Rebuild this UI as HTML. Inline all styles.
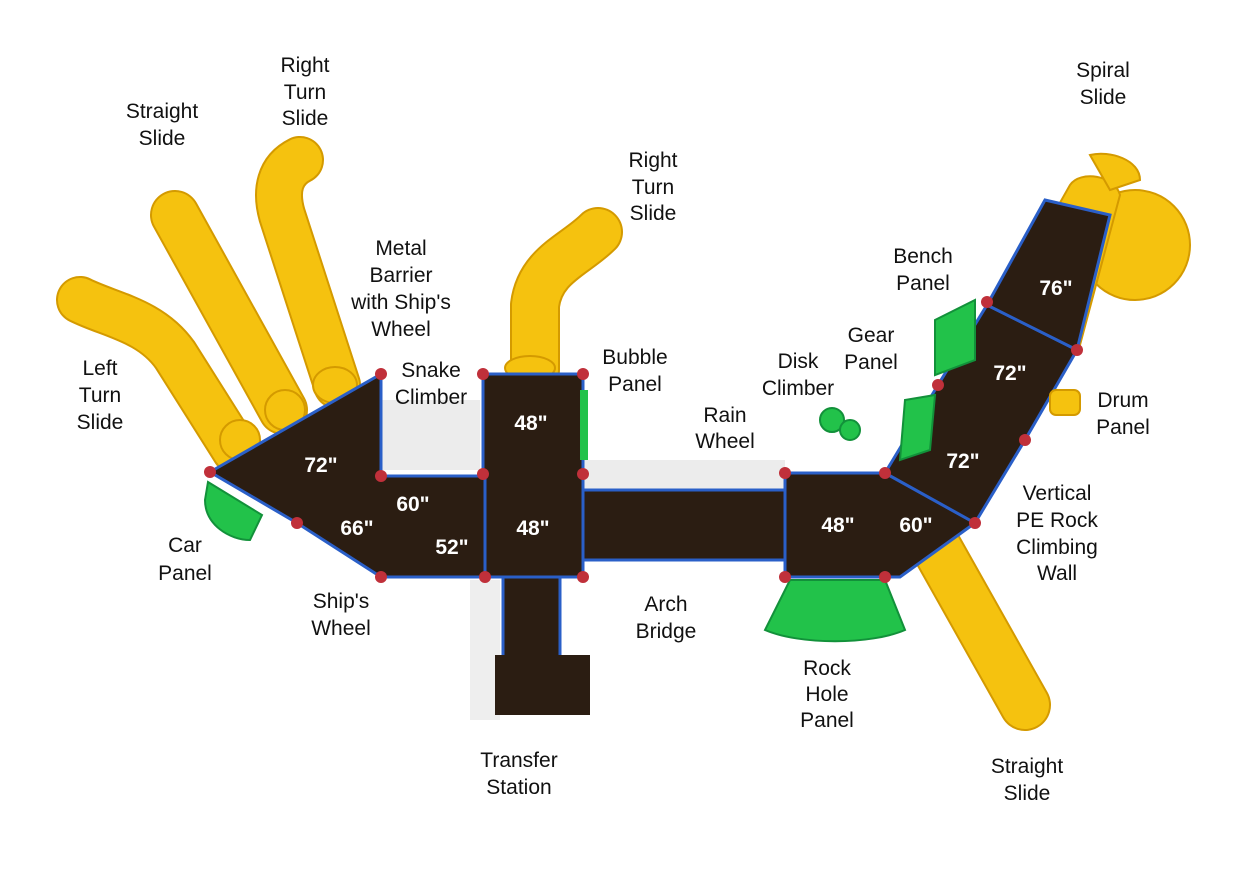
<!DOCTYPE html>
<html><head><meta charset="utf-8">
<style>
html,body{margin:0;padding:0;background:#fff;}
svg{display:block;}
.l{font-family:"Liberation Sans",Arial,sans-serif;font-size:21px;fill:#111;text-anchor:middle;}
.d{font-family:"Liberation Sans",Arial,sans-serif;font-size:21px;font-weight:bold;fill:#fff;text-anchor:middle;}
.y{fill:#f5c20f;stroke:#d49a00;stroke-width:2;}
.so{fill:none;stroke:#d49a00;stroke-linecap:round;stroke-linejoin:round;}
.si{fill:none;stroke:#f5c20f;stroke-linecap:round;stroke-linejoin:round;}
.b{fill:#2b1d12;stroke:#2a5fc8;stroke-width:3;}
.g{fill:#22c24a;stroke:#12913a;stroke-width:2;}
.r{fill:#c0303a;}
</style></head><body>
<svg width="1235" height="872" viewBox="0 0 1235 872">
<!-- shadows -->
<polygon points="583,460 785,460 785,490 583,490" fill="#ececec"/>
<polygon points="380,400 480,400 480,470 380,470" fill="#ececec"/>
<polygon points="470,580 500,580 500,720 470,720" fill="#eeeeee"/>
<!-- yellow slides left -->
<path class="so" stroke-width="48" d="M235,450 L175,355 C150,320 110,315 80,300"/>
<path class="si" stroke-width="44" d="M235,450 L175,355 C150,320 110,315 80,300"/>
<path class="so" stroke-width="50" d="M283,410 L175,215"/>
<path class="si" stroke-width="46" d="M283,410 L175,215"/>
<path class="so" stroke-width="48" d="M337,385 L282,215 C275,190 280,170 300,160"/>
<path class="si" stroke-width="44" d="M337,385 L282,215 C275,190 280,170 300,160"/>
<ellipse cx="240" cy="440" rx="20" ry="20" class="y"/>
<ellipse cx="285" cy="410" rx="20" ry="20" class="y"/>
<ellipse cx="335" cy="385" rx="22" ry="18" class="y"/>
<!-- right turn slide middle -->
<path class="so" stroke-width="50" d="M535,370 L535,305 C540,265 575,255 598,232"/>
<path class="si" stroke-width="46" d="M535,370 L535,305 C540,265 575,255 598,232"/>
<ellipse cx="530" cy="368" rx="25" ry="12" class="y"/>
<!-- spiral slide -->
<circle cx="1135" cy="245" r="55" class="y"/>
<path d="M1005,300 L1070,185 C1080,170 1115,175 1120,195 L1080,345 Z" class="y"/>
<path d="M1090,155 C1110,150 1140,160 1140,180 L1110,190 Z" class="y"/>
<!-- right straight slide -->
<path class="so" stroke-width="52" d="M935,545 L1025,705"/>
<path class="si" stroke-width="48" d="M935,545 L1025,705"/>
<!-- decks -->
<polygon points="210,472 381,374 381,476 485,476 485,577 381,577 297,523" class="b"/>
<polygon points="483,374 583,374 583,577 485,577 485,476 483,476" class="b"/>
<rect x="583" y="490" width="202" height="70" class="b"/>
<polygon points="785,473 885,473 975,523 900,577 785,577" class="b"/>
<polygon points="885,473 938,385 987,305 1077,350 1025,440 975,523" class="b"/>
<polygon points="987,305 1045,200 1110,215 1077,350" class="b"/>
<rect x="503" y="577" width="57" height="80" class="b"/>
<rect x="495" y="655" width="95" height="60" fill="#2b1d12"/>
<!-- green panels -->
<path d="M208,482 L262,515 L250,540 C230,540 205,525 205,500 Z" class="g"/>
<path d="M790,580 L885,580 L905,630 C870,645 800,645 765,630 Z" class="g"/>
<path d="M935,320 L975,300 L975,360 L935,375 Z" class="g"/>
<path d="M905,400 L935,395 L930,450 L900,460 Z" class="g"/>
<circle cx="832" cy="420" r="12" class="g"/><circle cx="850" cy="430" r="10" class="g"/>
<rect x="580" y="390" width="8" height="70" fill="#22c24a"/>
<rect x="1050" y="390" width="30" height="25" rx="6" class="y"/>
<!-- posts -->
<g class="r">
<circle cx="210" cy="472" r="6"/><circle cx="381" cy="374" r="6"/><circle cx="381" cy="476" r="6"/><circle cx="297" cy="523" r="6"/><circle cx="381" cy="577" r="6"/><circle cx="485" cy="577" r="6"/><circle cx="483" cy="374" r="6"/><circle cx="583" cy="374" r="6"/><circle cx="483" cy="474" r="6"/><circle cx="583" cy="474" r="6"/><circle cx="583" cy="577" r="6"/><circle cx="785" cy="473" r="6"/><circle cx="885" cy="473" r="6"/><circle cx="785" cy="577" r="6"/><circle cx="885" cy="577" r="6"/><circle cx="975" cy="523" r="6"/><circle cx="938" cy="385" r="6"/><circle cx="1025" cy="440" r="6"/><circle cx="987" cy="302" r="6"/><circle cx="1077" cy="350" r="6"/>
</g>
<!-- deck labels -->
<text class="d" x="321" y="472">72"</text>
<text class="d" x="413" y="511">60"</text>
<text class="d" x="357" y="535">66"</text>
<text class="d" x="452" y="554">52"</text>
<text class="d" x="531" y="430">48"</text>
<text class="d" x="533" y="535">48"</text>
<text class="d" x="838" y="532">48"</text>
<text class="d" x="916" y="532">60"</text>
<text class="d" x="1010" y="380">72"</text>
<text class="d" x="963" y="468">72"</text>
<text class="d" x="1056" y="295">76"</text>
<!-- labels -->
<g class="l">
<text x="305" y="72">Right</text><text x="305" y="99">Turn</text><text x="305" y="125">Slide</text>
<text x="162" y="118">Straight</text><text x="162" y="145">Slide</text>
<text x="401" y="255">Metal</text><text x="401" y="282">Barrier</text><text x="401" y="309">with Ship's</text><text x="401" y="336">Wheel</text>
<text x="653" y="167">Right</text><text x="653" y="194">Turn</text><text x="653" y="220">Slide</text>
<text x="1103" y="77">Spiral</text><text x="1103" y="104">Slide</text>
<text x="923" y="263">Bench</text><text x="923" y="290">Panel</text>
<text x="871" y="342">Gear</text><text x="871" y="369">Panel</text>
<text x="798" y="368">Disk</text><text x="798" y="395">Climber</text>
<text x="635" y="364">Bubble</text><text x="635" y="391">Panel</text>
<text x="431" y="377">Snake</text><text x="431" y="404">Climber</text>
<text x="100" y="375">Left</text><text x="100" y="402">Turn</text><text x="100" y="429">Slide</text>
<text x="725" y="422">Rain</text><text x="725" y="448">Wheel</text>
<text x="1123" y="407">Drum</text><text x="1123" y="434">Panel</text>
<text x="1057" y="500">Vertical</text><text x="1057" y="527">PE Rock</text><text x="1057" y="554">Climbing</text><text x="1057" y="580">Wall</text>
<text x="185" y="552">Car</text><text x="185" y="580">Panel</text>
<text x="341" y="608">Ship's</text><text x="341" y="635">Wheel</text>
<text x="666" y="611">Arch</text><text x="666" y="638">Bridge</text>
<text x="827" y="675">Rock</text><text x="827" y="701">Hole</text><text x="827" y="727">Panel</text>
<text x="519" y="767">Transfer</text><text x="519" y="794">Station</text>
<text x="1027" y="773">Straight</text><text x="1027" y="800">Slide</text>
</g>
</svg>
</body></html>
